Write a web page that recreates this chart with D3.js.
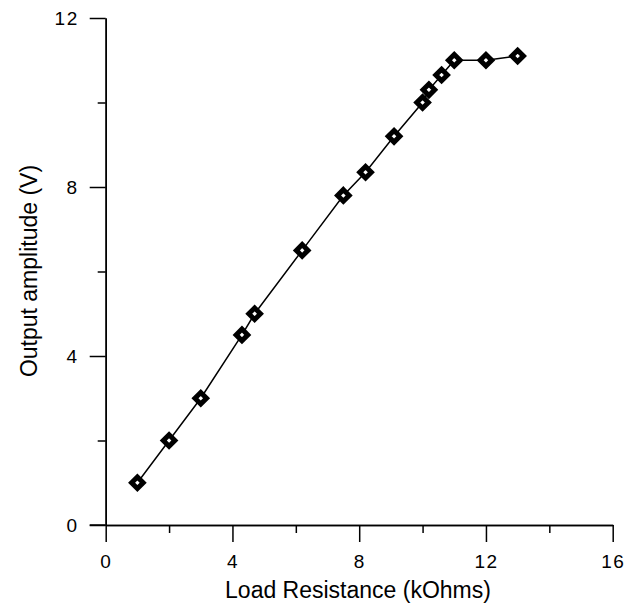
<!DOCTYPE html>
<html>
<head>
<meta charset="utf-8">
<script src="https://cdn.jsdelivr.net/npm/d3@7"></script>
<style>
  body { margin: 0; background: white; }
  text { font-family: "Liberation Sans", Arial, sans-serif; }
</style>
</head>
<body>
<div id="canvas"></div>
<script>
"use strict"

let drawingWidth = 632;
let drawingHeight = 604;

// data
let loadResistance = [1, 2, 3, 4.3, 4.7, 6.2, 7.5, 8.2, 9.1, 10, 10.2, 10.6, 11, 12, 13];
let outputAmplitude = [1, 2, 3, 4.5, 5, 6.5, 7.8, 8.35, 9.2, 10, 10.3, 10.65, 11, 11, 11.1];
let xMajorTicks = [0, 4, 8, 12, 16];
let xMinorTicks = [2, 6, 10, 14];
let yMajorTicks = [0, 4, 8, 12];
let yMinorTicks = [2, 6, 10];

let plotLeft = 105.7, plotRight = 612.7, plotTop = 18, plotBottom = 525;

let x = d3.scaleLinear().domain([0, 16]).range([plotLeft, plotRight]);
let y = d3.scaleLinear().domain([0, 12]).range([plotBottom, plotTop]);

let drawing = d3.select("#canvas")
    .append("svg")
    .attr("width", drawingWidth)
    .attr("height", drawingHeight);

// x axis
let xAxis = drawing.append("g")
    .attr("transform", "translate(0," + plotBottom + ")")
    .call(d3.axisBottom(x).tickValues(xMajorTicks).tickSize(17).tickPadding(13).tickSizeOuter(0));
let xMinor = drawing.append("g")
    .attr("transform", "translate(0," + plotBottom + ")")
    .call(d3.axisBottom(x).tickValues(xMinorTicks).tickSize(8).tickFormat("").tickSizeOuter(0));

// y axis
let yAxis = drawing.append("g")
    .attr("transform", "translate(" + plotLeft + ",0)")
    .call(d3.axisLeft(y).tickValues(yMajorTicks).tickSize(16).tickPadding(11).tickSizeOuter(0));
let yMinor = drawing.append("g")
    .attr("transform", "translate(" + plotLeft + ",0)")
    .call(d3.axisLeft(y).tickValues(yMinorTicks).tickSize(8).tickFormat("").tickSizeOuter(0));

drawing.selectAll(".domain").attr("stroke", "black").attr("stroke-width", 1.5);
drawing.selectAll(".tick line").attr("stroke", "black").attr("stroke-width", 1.5);
drawing.selectAll(".tick text")
    .attr("font-size", 19)
    .attr("letter-spacing", 1.5)
    .attr("fill", "black")
    .attr("font-family", "'Liberation Sans', Arial, sans-serif");

// x axis extends a little to the left of the y axis
drawing.append("line")
    .attr("x1", plotLeft - 16)
    .attr("x2", plotLeft)
    .attr("y1", plotBottom)
    .attr("y2", plotBottom)
    .attr("stroke", "black")
    .attr("stroke-width", 1.5);

// axis titles
drawing.append("text")
    .attr("x", 358)
    .attr("y", 598)
    .attr("text-anchor", "middle")
    .attr("font-size", 23)
    .text("Load Resistance (kOhms)");

drawing.append("text")
    .attr("transform", "translate(37,271) rotate(-90)")
    .attr("text-anchor", "middle")
    .attr("font-size", 23)
    .text("Output amplitude (V)");

// line
let points = loadResistance.map((d, i) => [d, outputAmplitude[i]]);

drawing.append("path")
    .datum(points)
    .attr("d", d3.line().x(d => x(d[0])).y(d => y(d[1])))
    .attr("fill", "none")
    .attr("stroke", "black")
    .attr("stroke-width", 1.5);

// diamond markers
drawing.selectAll(".marker")
    .data(points)
    .enter()
    .append("path")
    .attr("class", "marker")
    .attr("transform", d => "translate(" + x(d[0]) + "," + y(d[1]) + ")")
    .attr("d", "M0,-5.8 L5.8,0 L0,5.8 L-5.8,0 Z")
    .attr("fill", "white")
    .attr("stroke", "black")
    .attr("stroke-width", 5);
</script>
</body>
</html>
